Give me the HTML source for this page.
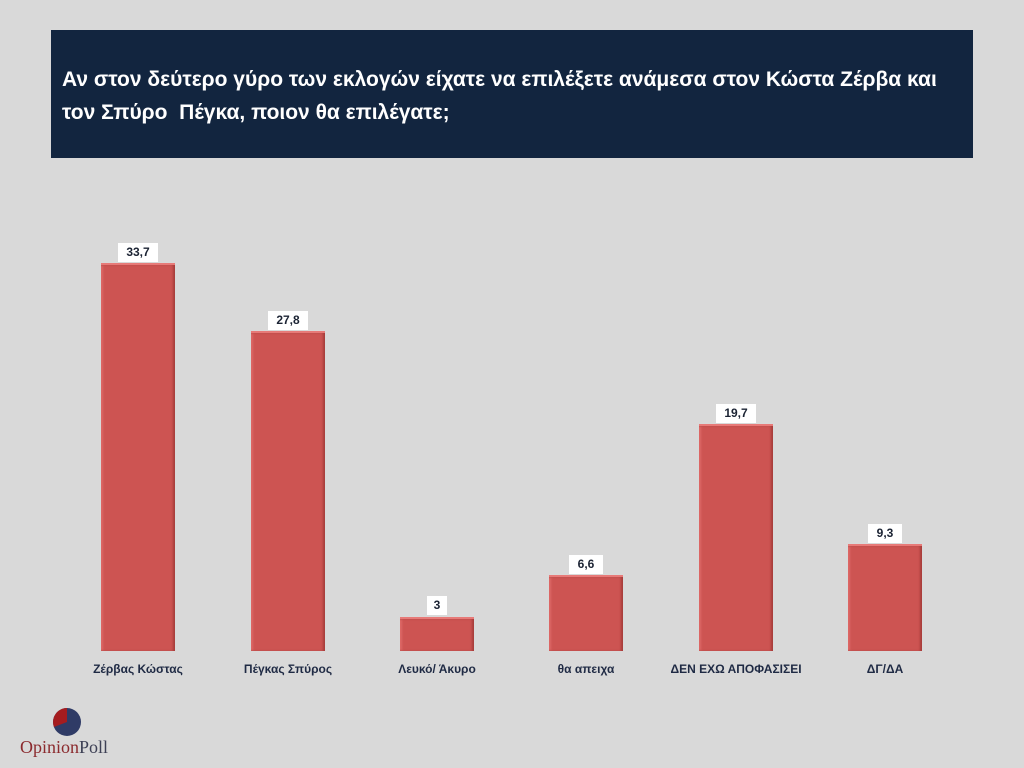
<!DOCTYPE html>
<html><head><meta charset="utf-8"><style>
body{margin:0;width:1024px;height:768px;background:#d9d9d9;position:relative;overflow:hidden;font-family:"Liberation Sans","DejaVu Sans",sans-serif}
.title{position:absolute;left:51px;top:30px;width:922px;height:128px;background:#12253f;color:#fff;font-weight:bold;font-size:21px;line-height:33px;box-sizing:border-box;padding:33px 0 0 11px}
.bar{position:absolute;width:74px;background:#cd5452;border-top:2px solid #e77a78;box-shadow:inset -2px 0 2px #a63c3a, inset 2px 0 2px #de6a68;box-sizing:border-box}
.val{position:absolute;background:#fff;color:#1b2333;font-weight:bold;font-size:12px;text-align:center;width:40px;height:19px;line-height:19px}
.cat{position:absolute;top:662px;width:160px;text-align:center;color:#1f2a44;font-weight:bold;font-size:12px}
</style></head><body>
<div class="title">Αν στον δεύτερο γύρο των εκλογών είχατε να επιλέξετε ανάμεσα στον Κώστα Ζέρβα και<br>τον Σπύρο&nbsp; Πέγκα, ποιον θα επιλέγατε;</div>

<div class="bar" style="left:101px;top:263px;height:388px"></div>
<div class="val" style="left:118px;top:243px">33,7</div>
<div class="cat" style="left:58px">Ζέρβας Κώστας</div>

<div class="bar" style="left:251px;top:331px;height:320px"></div>
<div class="val" style="left:268px;top:311px">27,8</div>
<div class="cat" style="left:208px">Πέγκας Σπύρος</div>

<div class="bar" style="left:400px;top:617px;height:34px"></div>
<div class="val" style="left:427px;top:596px;width:20px">3</div>
<div class="cat" style="left:357px">Λευκό/ Άκυρο</div>

<div class="bar" style="left:549px;top:575px;height:76px"></div>
<div class="val" style="left:569px;top:555px;width:34px">6,6</div>
<div class="cat" style="left:506px">θα απειχα</div>

<div class="bar" style="left:699px;top:424px;height:227px"></div>
<div class="val" style="left:716px;top:404px">19,7</div>
<div class="cat" style="left:656px">ΔΕΝ ΕΧΩ ΑΠΟΦΑΣΙΣΕΙ</div>

<div class="bar" style="left:848px;top:544px;height:107px"></div>
<div class="val" style="left:868px;top:524px;width:34px">9,3</div>
<div class="cat" style="left:805px">ΔΓ/ΔΑ</div>

<svg style="position:absolute;left:50px;top:706px" width="32" height="32" viewBox="0 0 32 32">
<circle cx="17" cy="16" r="14" fill="#2f3b66"/>
<path d="M17 16 L17 2 A14 14 0 0 0 4 21 Z" fill="#a51c1f"/>
</svg>
<div style="position:absolute;left:20px;top:737px;font-family:'Liberation Serif',serif;font-size:18px;color:#8b2a2e">Opinion<span style="color:#3d4055">Poll</span></div>
</body></html>
